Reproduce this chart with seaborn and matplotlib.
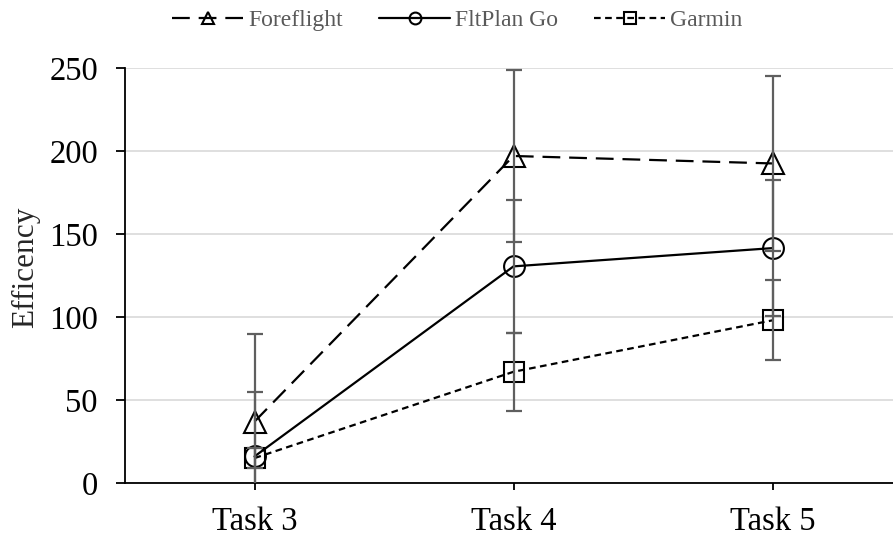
import matplotlib
matplotlib.use("Agg")
import matplotlib.pyplot as plt
import seaborn as sns
import pandas as pd
import numpy as np

tasks = ["Task 3", "Task 4", "Task 5"]
series = ["Foreflight", "FltPlan Go", "Garmin"]
foreflight = [37, 197, 192.5]
foreflight_err = [53, 52, 52.5]
fltplan = [16, 130.5, 141.5]
fltplan_err = [39, 40, 41]
garmin = [15, 67, 98]
garmin_err = [6, 23.5, 24]

values = {"Foreflight": foreflight, "FltPlan Go": fltplan, "Garmin": garmin}
errors = {"Foreflight": foreflight_err, "FltPlan Go": fltplan_err, "Garmin": garmin_err}

rows = []
for s in series:
    for i, t in enumerate(tasks):
        rows.append({"Task": t, "x": i, "Series": s, "Value": values[s][i], "Err": errors[s][i]})
df = pd.DataFrame(rows)

sns.set_theme(style="white")
plt.rcParams["font.family"] = ["Liberation Serif", "DejaVu Serif"]

dpi = 100
fig = plt.figure(figsize=(8.93, 5.37), dpi=dpi)
ax = fig.add_axes([125 / 893, 1 - 483 / 537, (902 - 125) / 893, (483 - 68) / 537])

dashes = {"Foreflight": (8, 4), "FltPlan Go": "", "Garmin": (3, 2)}
markers = {"Foreflight": "^", "FltPlan Go": "o", "Garmin": "s"}
msize = {"Foreflight": 16, "FltPlan Go": 15, "Garmin": 14}

# error bars
for s in series:
    sub = df[df["Series"] == s]
    ax.errorbar(sub["x"], sub["Value"], yerr=sub["Err"], fmt="none",
                ecolor="#5f5f5f", elinewidth=1.6, capsize=6, capthick=1.6, zorder=3)

for s in series:
    sub = df[df["Series"] == s]
    sns.lineplot(data=sub, x="x", y="Value", ax=ax, color="black", linewidth=1.6,
                 marker=markers[s], markersize=msize[s], markerfacecolor="none",
                 markeredgecolor="black", markeredgewidth=1.5,
                 dashes=False, label=s, zorder=2, legend=False)
    line = ax.lines[-1]
    if dashes[s]:
        line.set_dashes(dashes[s])

ax.set_xlim(-0.5, 2.5)
ax.set_ylim(0, 250)
ax.set_yticks([0, 50, 100, 150, 200, 250])
ax.set_xticks(range(len(tasks)))
ax.set_xticklabels(tasks)
ax.yaxis.grid(True, color="#d9d9d9", linewidth=1.2)
ax.set_axisbelow(True)
for sp in ["top", "right"]:
    ax.spines[sp].set_visible(False)
for sp in ["left", "bottom"]:
    ax.spines[sp].set_color("black")
    ax.spines[sp].set_linewidth(1.3)
ax.tick_params(axis="both", labelsize=23.5, colors="black", width=1.3, direction="out",
               bottom=True, left=True)
ax.tick_params(axis="y", length=6.5, pad=13)
ax.tick_params(axis="x", length=5, pad=12)
ax.set_xlabel("")
ax.set_ylabel("Efficency", fontsize=22.5)
ax.yaxis.set_label_coords((26 - 125) / 777, (483 - 267) / 415)
ax.yaxis.label.set_va("center")

handles = ax.lines[-3:]
leg = fig.legend(handles, series, loc="upper center", bbox_to_anchor=(0.512, 1.022), ncol=3,
                 frameon=False, fontsize=17, handlelength=3.0, columnspacing=1.55,
                 handletextpad=0.2)
for h in leg.legend_handles:
    h.set_markersize(8.5)
for t in leg.get_texts():
    t.set_color("#595959")

fig.savefig("out.png", dpi=dpi)
